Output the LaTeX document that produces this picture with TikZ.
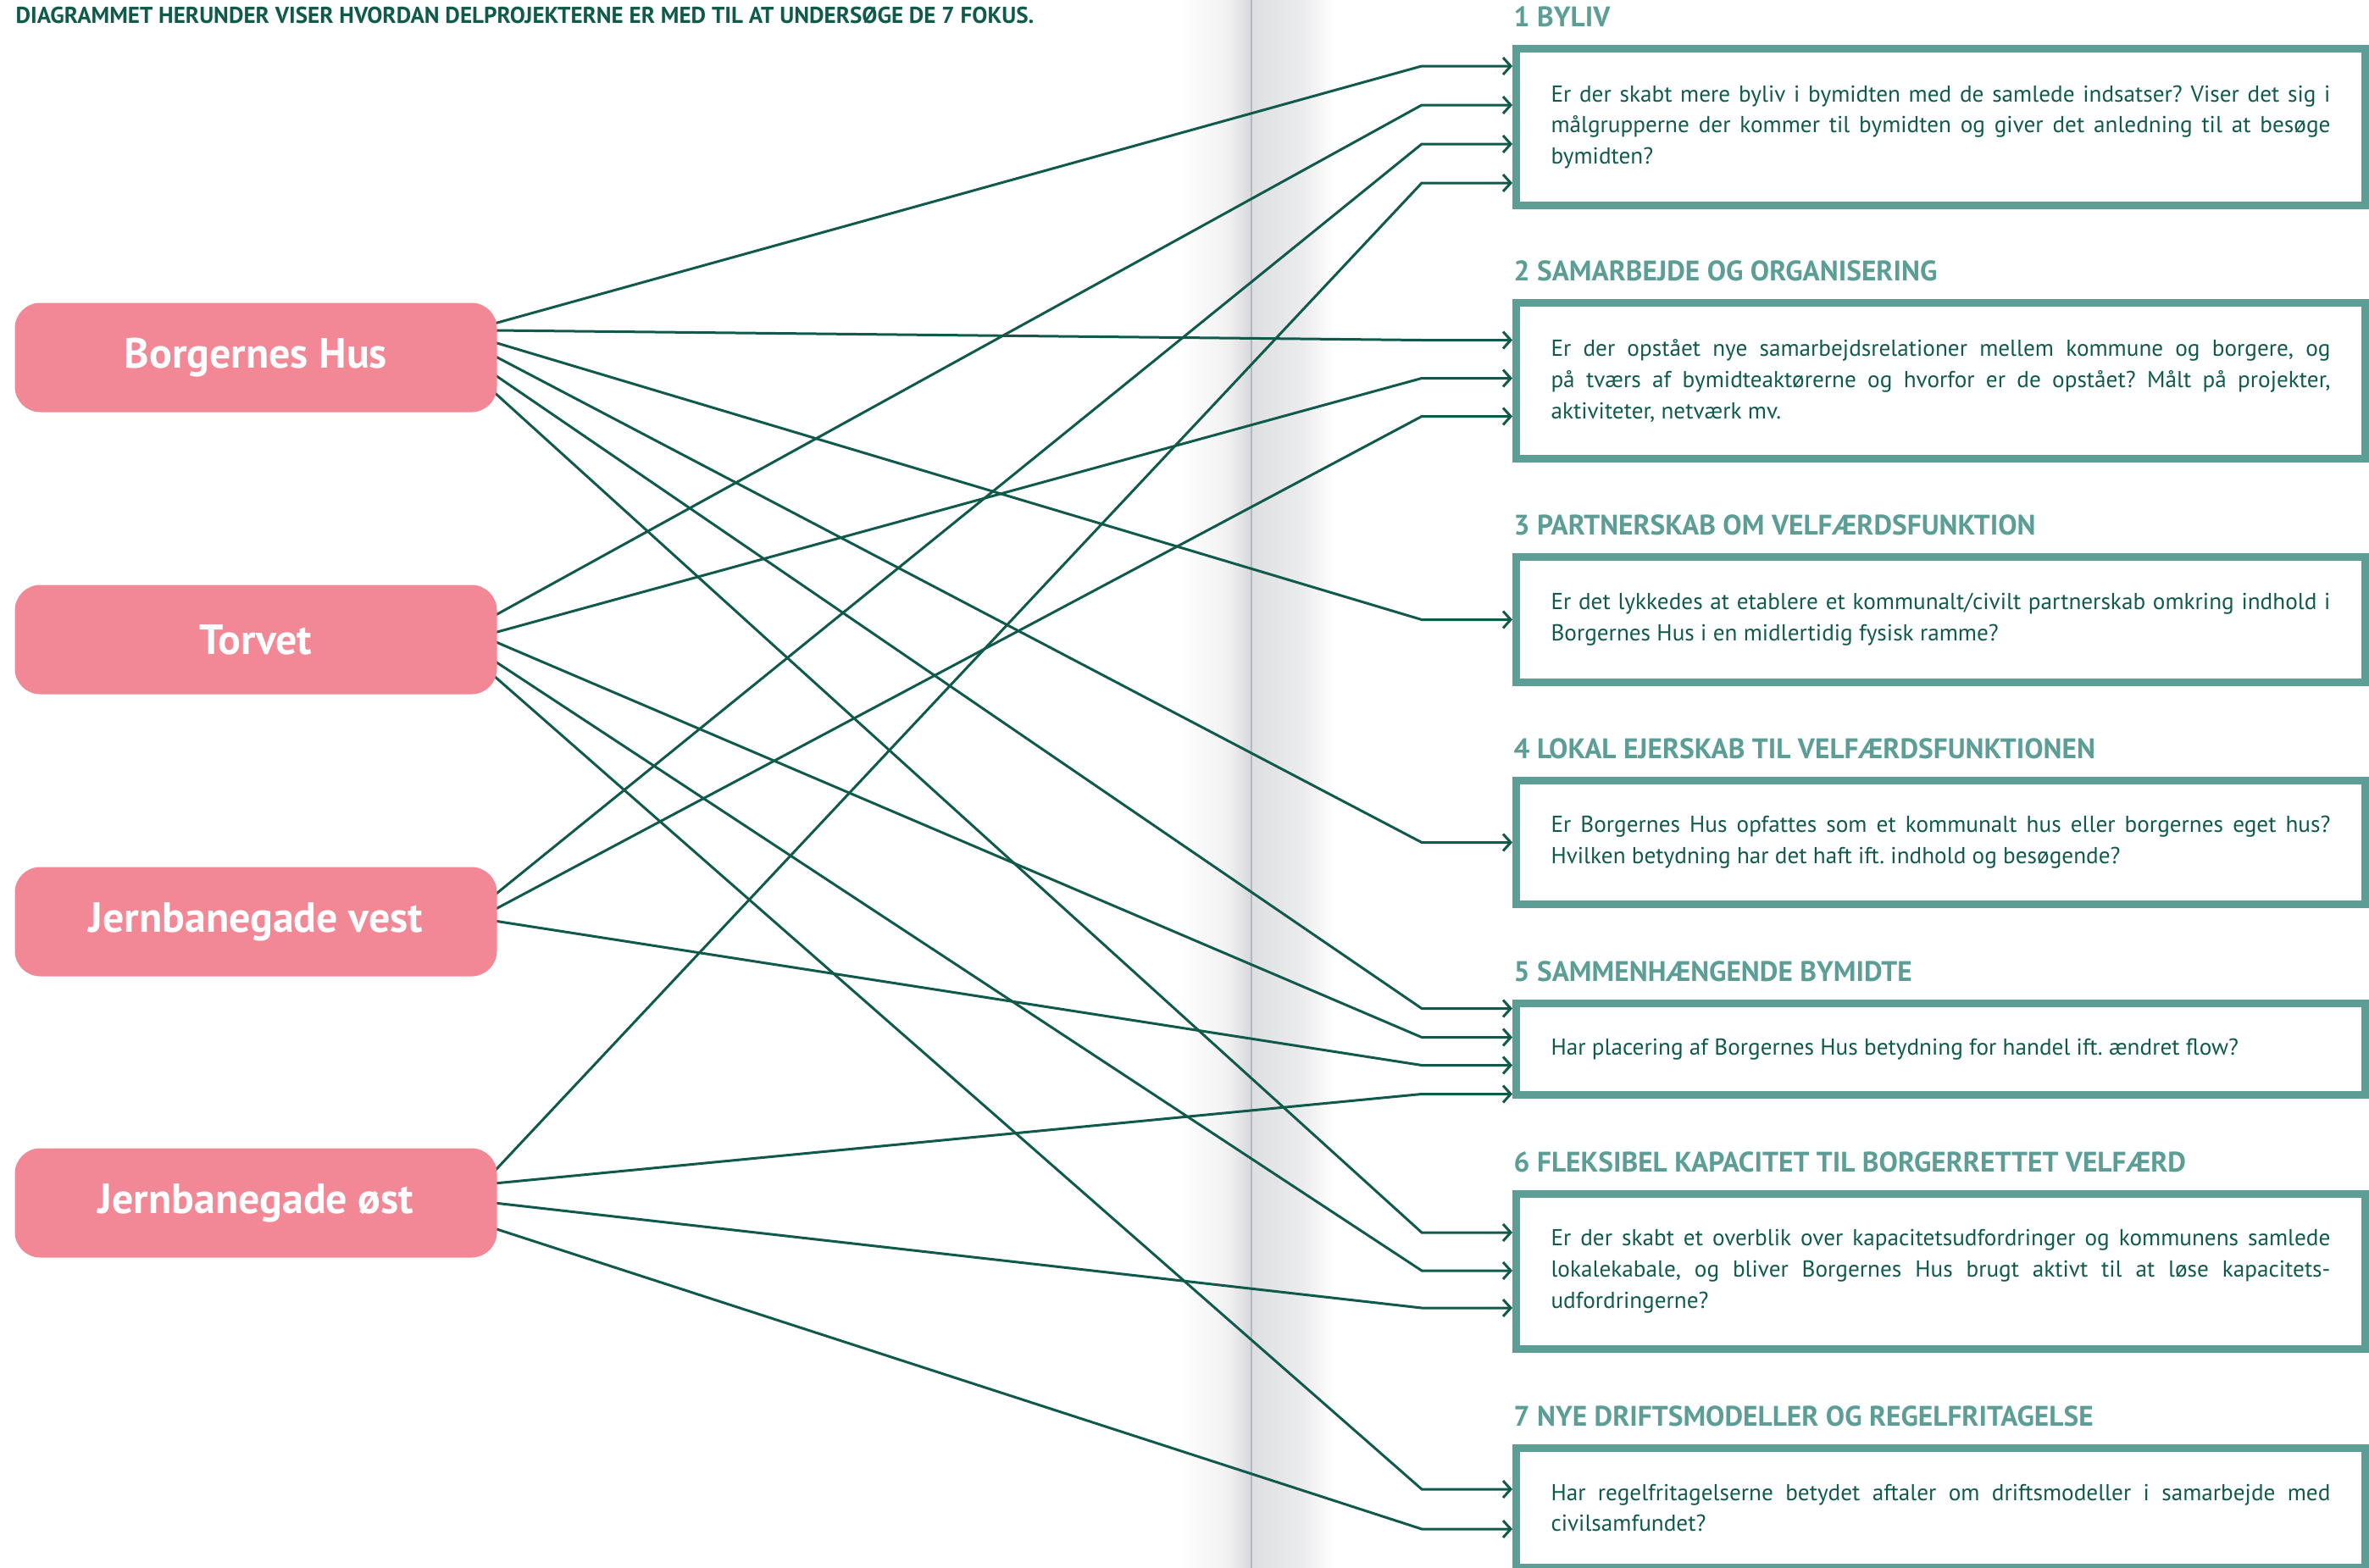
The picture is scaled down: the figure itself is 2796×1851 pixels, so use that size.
\documentclass[tikz,border=0pt]{standalone}
\usepackage{fontspec}
\setmainfont{PT Sans}
\usetikzlibrary{arrows.meta,calc,backgrounds}

\definecolor{hubpink}{RGB}{242,136,150}
\definecolor{focusteal}{RGB}{92,158,150}
\definecolor{darkgreen}{RGB}{16,90,76}
\definecolor{foldgray}{RGB}{214,215,218}
\definecolor{foldline}{RGB}{180,182,196}

\hyphenpenalty=10000
\frenchspacing

\tikzset{
  hub/.style={fill=hubpink, rounded corners=3mm, minimum width=56.9mm, minimum height=12.9mm,
    text=white, font=\fontsize{14.2}{16}\selectfont\bfseries},
  focus/.style={draw=focusteal, line width=0.9mm, anchor=north west, text width=92mm,
    inner xsep=4.1mm, inner ysep=0pt, align=justify, text=darkgreen,
    font=\fontsize{7.75}{10.5}\selectfont},
  focushead/.style={anchor=base west, inner sep=0pt, text=focusteal,
    font=\fontsize{9.5}{11}\selectfont\bfseries},
  link/.style={draw=darkgreen, line width=0.3mm, -{Straight Barb[length=0.9mm,width=2mm]}}
}

\begin{document}
\begin{tikzpicture}[x=0.1mm, y=-0.1mm]
  \useasboundingbox (0,0) rectangle (2796,1851);

  \node[anchor=base west, inner sep=0pt, text=darkgreen, font=\fontsize{7.7}{9}\selectfont\bfseries] (title) at (18,27)
    {DIAGRAMMET HERUNDER VISER HVORDAN DELPROJEKTERNE ER MED TIL AT UNDERSØGE DE 7 FOKUS.};

  % delprojekter
  \node[hub] (bh) at (302,422) {Borgernes Hus};
  \node[hub] (torvet) at (302,755) {Torvet};
  \node[hub] (jvest) at (302,1088) {Jernbanegade vest};
  \node[hub] (jost) at (302,1420) {Jernbanegade øst};

  % fokusomraader
  \node[focus, minimum height=18.5mm] (q1) at (1785,53)
    {Er der skabt mere byliv i bymidten med de samlede indsatser? Viser det sig i\linebreak
     målgrupperne der kommer til bymidten og giver det anledning til at besøge\linebreak bymidten?};
  \node[focus, minimum height=18.4mm] (q2) at (1785,353)
    {Er der opstået nye samarbejdsrelationer mellem kommune og borgere, og\linebreak
     på tværs af bymidteaktørerne og hvorfor er de opstået? Målt på projekter,\linebreak aktiviteter, netværk mv.};
  \node[focus, minimum height=14.8mm] (q3) at (1785,653)
    {Er det lykkedes at etablere et kommunalt/civilt partnerskab omkring indhold i\linebreak
     Borgernes Hus i en midlertidig fysisk ramme?};
  \node[focus, minimum height=14.6mm] (q4) at (1785,917)
    {Er Borgernes Hus opfattes som et kommunalt hus eller borgernes eget hus?\linebreak
     Hvilken betydning har det haft ift. indhold og besøgende?};
  \node[focus, minimum height=10.8mm] (q5) at (1785,1180)
    {Har placering af Borgernes Hus betydning for handel ift. ændret flow?};
  \node[focus, minimum height=18.3mm] (q6) at (1785,1405)
    {Er der skabt et overblik over kapacitetsudfordringer og kommunens samlede\linebreak
     lokalekabale, og bliver Borgernes Hus brugt aktivt til at løse kapacitets-\linebreak udfordringerne?};
  \node[focus, minimum height=14.1mm] (q7) at (1785,1705)
    {Har regelfritagelserne betydet aftaler om driftsmodeller i samarbejde med\linebreak civilsamfundet?};

  % overskrifter
  \node[focushead] (h1) at ($(q1.north west)+(1,-22)$) {1 BYLIV};
  \node[focushead] (h2) at ($(q2.north west)+(1,-22)$) {2 SAMARBEJDE OG ORGANISERING};
  \node[focushead] (h3) at ($(q3.north west)+(1,-22)$) {3 PARTNERSKAB OM VELFÆRDSFUNKTION};
  \node[focushead] (h4) at ($(q4.north west)+(1,-22)$) {4 LOKAL EJERSKAB TIL VELFÆRDSFUNKTIONEN};
  \node[focushead] (h5) at ($(q5.north west)+(1,-22)$) {5 SAMMENHÆNGENDE BYMIDTE};
  \node[focushead] (h6) at ($(q6.north west)+(1,-22)$) {6 FLEKSIBEL KAPACITET TIL BORGERRETTET VELFÆRD};
  \node[focushead] (h7) at ($(q7.north west)+(1,-22)$) {7 NYE DRIFTSMODELLER OG REGELFRITAGELSE};

  \begin{scope}[on background layer]
    % bogens fold
    \shade[left color=white, right color=foldgray!35] (1390,0) rectangle (1450,1851);
    \shade[left color=foldgray!35, right color=foldgray] (1450,0) rectangle (1477,1851);
    \shade[left color=foldgray!80, right color=foldgray!50] (1477,0) rectangle (1535,1851);
    \shade[left color=foldgray!50, right color=white] (1535,0) rectangle (1575,1851);
    \draw[foldline, line width=0.25mm] (1477,0) -- (1477,1851);

    % Borgernes Hus
    \draw[link] ($(bh.east)+(-4,-40)$) -- ($(q1.west)+(-107,-72)$) -- ($(q1.west)+(0,-72)$);
    \draw[link] ($(bh.east)+(-4,-32)$) -- ($(q2.west)+(-107,-48)$) -- ($(q2.west)+(0,-48)$);
    \draw[link] ($(bh.east)+(-4,-18)$) -- ($(q3.west)+(-107,0)$) -- (q3.west);
    \draw[link] ($(bh.east)+(-4,-2)$) -- ($(q4.west)+(-107,0)$) -- (q4.west);
    \draw[link] ($(bh.east)+(-4,20)$) -- ($(q5.west)+(-107,-48)$) -- ($(q5.west)+(0,-48)$);
    \draw[link] ($(bh.east)+(-4,41)$) -- ($(q6.west)+(-107,-46)$) -- ($(q6.west)+(0,-46)$);

    % Torvet
    \draw[link] ($(torvet.east)+(-4,-28)$) -- ($(q1.west)+(-107,-26)$) -- ($(q1.west)+(0,-26)$);
    \draw[link] ($(torvet.east)+(-4,-8)$) -- ($(q2.west)+(-107,-3)$) -- ($(q2.west)+(0,-3)$);
    \draw[link] ($(torvet.east)+(-4,2)$) -- ($(q5.west)+(-107,-14)$) -- ($(q5.west)+(0,-14)$);
    \draw[link] ($(torvet.east)+(-4,25)$) -- ($(q6.west)+(-107,-1)$) -- ($(q6.west)+(0,-1)$);
    \draw[link] ($(torvet.east)+(-4,43)$) -- ($(q7.west)+(-107,-22)$) -- ($(q7.west)+(0,-22)$);

    % Jernbanegade vest
    \draw[link] ($(jvest.east)+(-4,-31)$) -- ($(q1.west)+(-107,20)$) -- ($(q1.west)+(0,20)$);
    \draw[link] ($(jvest.east)+(-4,-14)$) -- ($(q2.west)+(-107,42)$) -- ($(q2.west)+(0,42)$);
    \draw[link] ($(jvest.east)+(-4,-1)$) -- ($(q5.west)+(-107,19)$) -- ($(q5.west)+(0,19)$);

    % Jernbanegade oest
    \draw[link] ($(jost.east)+(-4,-37)$) -- ($(q1.west)+(-107,66)$) -- ($(q1.west)+(0,66)$);
    \draw[link] ($(jost.east)+(-4,-23)$) -- ($(q5.west)+(-107,53)$) -- ($(q5.west)+(0,53)$);
    \draw[link] ($(jost.east)+(-4,0)$) -- ($(q6.west)+(-107,43)$) -- ($(q6.west)+(0,43)$);
    \draw[link] ($(jost.east)+(-4,30)$) -- ($(q7.west)+(-107,25)$) -- ($(q7.west)+(0,25)$);
  \end{scope}
\end{tikzpicture}
\end{document}
